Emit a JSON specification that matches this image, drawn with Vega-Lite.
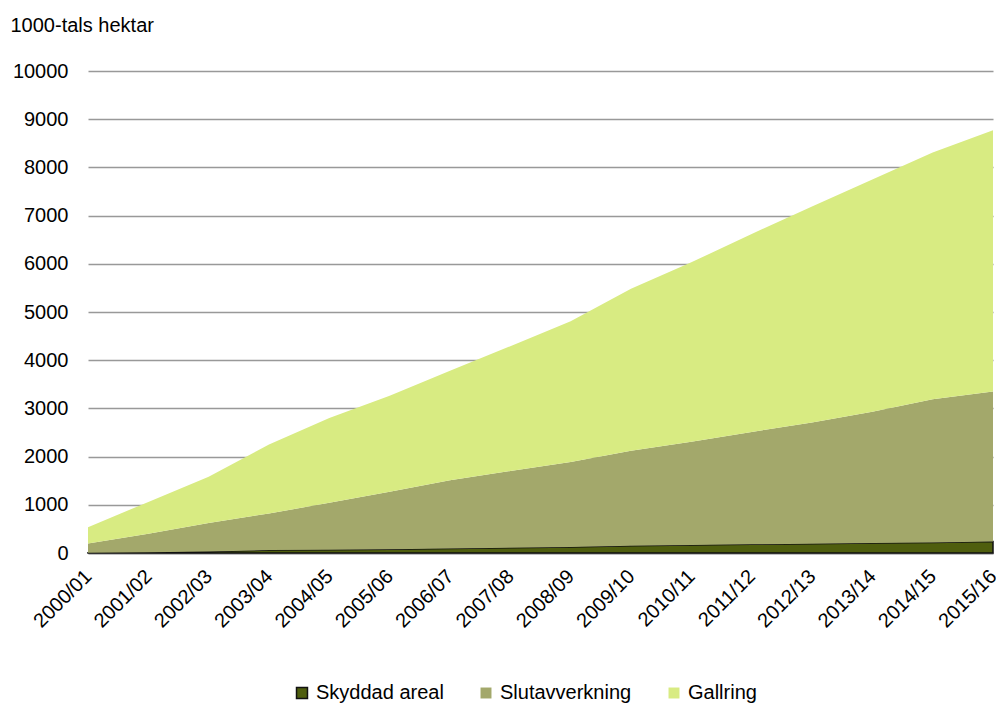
{
  "$schema": "https://vega.github.io/schema/vega-lite/v6.json",
  "width": 905,
  "height": 482,
  "autosize": {"type": "none"},
  "padding": {"left": 88, "top": 71, "right": 3, "bottom": 151},
  "background": "white",
  "config": {
    "font": "Liberation Sans",
    "view": {"stroke": null}
  },
  "data": {
    "values": [
      {"ar": "2000/01", "serie": "Skyddad areal", "hektar": 5},
      {"ar": "2001/02", "serie": "Skyddad areal", "hektar": 15},
      {"ar": "2002/03", "serie": "Skyddad areal", "hektar": 30},
      {"ar": "2003/04", "serie": "Skyddad areal", "hektar": 60},
      {"ar": "2004/05", "serie": "Skyddad areal", "hektar": 70},
      {"ar": "2005/06", "serie": "Skyddad areal", "hektar": 80},
      {"ar": "2006/07", "serie": "Skyddad areal", "hektar": 95},
      {"ar": "2007/08", "serie": "Skyddad areal", "hektar": 110},
      {"ar": "2008/09", "serie": "Skyddad areal", "hektar": 125},
      {"ar": "2009/10", "serie": "Skyddad areal", "hektar": 150},
      {"ar": "2010/11", "serie": "Skyddad areal", "hektar": 165},
      {"ar": "2011/12", "serie": "Skyddad areal", "hektar": 180},
      {"ar": "2012/13", "serie": "Skyddad areal", "hektar": 190},
      {"ar": "2013/14", "serie": "Skyddad areal", "hektar": 205},
      {"ar": "2014/15", "serie": "Skyddad areal", "hektar": 220},
      {"ar": "2015/16", "serie": "Skyddad areal", "hektar": 240},
      {"ar": "2000/01", "serie": "Slutavverkning", "hektar": 190},
      {"ar": "2001/02", "serie": "Slutavverkning", "hektar": 385},
      {"ar": "2002/03", "serie": "Slutavverkning", "hektar": 590},
      {"ar": "2003/04", "serie": "Slutavverkning", "hektar": 760},
      {"ar": "2004/05", "serie": "Slutavverkning", "hektar": 970},
      {"ar": "2005/06", "serie": "Slutavverkning", "hektar": 1190},
      {"ar": "2006/07", "serie": "Slutavverkning", "hektar": 1415},
      {"ar": "2007/08", "serie": "Slutavverkning", "hektar": 1590},
      {"ar": "2008/09", "serie": "Slutavverkning", "hektar": 1765},
      {"ar": "2009/10", "serie": "Slutavverkning", "hektar": 1970},
      {"ar": "2010/11", "serie": "Slutavverkning", "hektar": 2145},
      {"ar": "2011/12", "serie": "Slutavverkning", "hektar": 2330},
      {"ar": "2012/13", "serie": "Slutavverkning", "hektar": 2520},
      {"ar": "2013/14", "serie": "Slutavverkning", "hektar": 2725},
      {"ar": "2014/15", "serie": "Slutavverkning", "hektar": 2970},
      {"ar": "2015/16", "serie": "Slutavverkning", "hektar": 3110},
      {"ar": "2000/01", "serie": "Gallring", "hektar": 340},
      {"ar": "2001/02", "serie": "Gallring", "hektar": 660},
      {"ar": "2002/03", "serie": "Gallring", "hektar": 960},
      {"ar": "2003/04", "serie": "Gallring", "hektar": 1430},
      {"ar": "2004/05", "serie": "Gallring", "hektar": 1760},
      {"ar": "2005/06", "serie": "Gallring", "hektar": 1990},
      {"ar": "2006/07", "serie": "Gallring", "hektar": 2270},
      {"ar": "2007/08", "serie": "Gallring", "hektar": 2590},
      {"ar": "2008/09", "serie": "Gallring", "hektar": 2920},
      {"ar": "2009/10", "serie": "Gallring", "hektar": 3360},
      {"ar": "2010/11", "serie": "Gallring", "hektar": 3720},
      {"ar": "2011/12", "serie": "Gallring", "hektar": 4110},
      {"ar": "2012/13", "serie": "Gallring", "hektar": 4480},
      {"ar": "2013/14", "serie": "Gallring", "hektar": 4820},
      {"ar": "2014/15", "serie": "Gallring", "hektar": 5120},
      {"ar": "2015/16", "serie": "Gallring", "hektar": 5420}
    ]
  },
  "transform": [
    {"calculate": "indexof(['Skyddad areal','Slutavverkning','Gallring'], datum.serie)", "as": "ordning"}
  ],
  "mark": {"type": "area", "strokeWidth": 1.5, "opacity": 1},
  "encoding": {
    "x": {
      "field": "ar",
      "type": "ordinal",
      "scale": {"type": "point", "padding": 0},
      "axis": {
        "title": null,
        "labelAngle": -45,
        "labelAlign": "right",
        "labelBaseline": "middle",
        "labelFontSize": 20,
        "labelColor": "#000",
        "labelPadding": 20,
        "labelOverlap": false,
        "labelBound": false,
        "ticks": false,
        "domain": true,
        "domainColor": "#999",
        "domainWidth": 2,
        "grid": false
      }
    },
    "y": {
      "field": "hektar",
      "type": "quantitative",
      "stack": "zero",
      "scale": {"domain": [0, 10000], "nice": false},
      "axis": {
        "values": [0, 1000, 2000, 3000, 4000, 5000, 6000, 7000, 8000, 9000, 10000],
        "format": "d",
        "title": "1000-tals hektar",
        "titleAngle": 0,
        "titleAlign": "left",
        "titleBaseline": "alphabetic",
        "titleX": -78,
        "titleY": -40,
        "titleFontSize": 20,
        "titleFontWeight": "normal",
        "titleColor": "#000",
        "labelFontSize": 20,
        "labelColor": "#000",
        "labelPadding": 20,
        "ticks": false,
        "domain": false,
        "grid": true,
        "gridColor": "#999",
        "gridWidth": 1.5
      }
    },
    "color": {
      "field": "serie",
      "type": "nominal",
      "scale": {
        "domain": ["Skyddad areal", "Slutavverkning", "Gallring"],
        "range": ["#4F5E0E", "#A3A86B", "#D8EB82"]
      },
      "legend": {
        "title": null,
        "orient": "none",
        "legendX": 204,
        "legendY": 612,
        "direction": "horizontal",
        "symbolType": "square",
        "symbolSize": 120,
        "symbolOpacity": 1,
        "labelFontSize": 20,
        "labelColor": "#000",
        "columnPadding": 32,
        "labelOffset": 4
      }
    },
    "stroke": {
      "field": "serie",
      "type": "nominal",
      "scale": {
        "domain": ["Skyddad areal", "Slutavverkning", "Gallring"],
        "range": ["#111", "transparent", "transparent"]
      },
      "legend": {
        "title": null,
        "orient": "none",
        "legendX": 204,
        "legendY": 612,
        "direction": "horizontal",
        "symbolType": "square",
        "symbolSize": 120,
        "labelFontSize": 20,
        "labelColor": "#000",
        "columnPadding": 32,
        "labelOffset": 4
      }
    },
    "order": {"field": "ordning", "type": "quantitative"}
  }
}
